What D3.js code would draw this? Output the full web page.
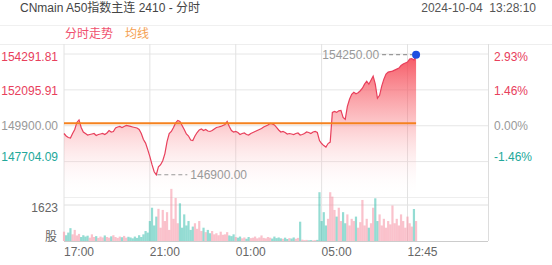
<!DOCTYPE html>
<html><head><meta charset="utf-8">
<script src="https://cdn.jsdelivr.net/npm/d3@7"></script>
<style>body{margin:0;background:#fff}svg{display:block;font-family:"Liberation Sans",Arial,"Noto Sans CJK SC",sans-serif}</style>
</head><body><svg id="c" width="552" height="265"></svg>
<script>
const titleText = "CNmain A50指数主连 2410 - 分时";
const stampText = "2024-10-04  13:28:10";
const legendLabels = ["分时走势", "均线"];
const preClose = 149900;
const priceTicks = [154291.81, 152095.91, 149900.00, 147704.09];
const pctTicks = ["2.93%", "1.46%", "0.00%", "-1.46%"];
const volTick = 1623;
const volUnit = "股";
const timeTickIdx = [0, 240, 480, 720, 960];
const timeTickLabels = ["17:00", "21:00", "01:00", "05:00", "12:45"];
const stepMin = 6;
const nightStartIdx = 0;
const dayStartIdx = 750;
const sessionLength = 1185;
const avgPrice = 150060;

const nightPrices = [
149426,149272,149179,149148,149426,149672,150103,150257,149795,149518,
149426,149333,149364,149395,149426,149302,149364,149395,149426,149364,
149456,149610,149518,149549,149764,149826,149857,149795,149857,149918,
149888,149857,149826,149795,149764,149672,149426,149056,148840,148440,
148009,147516,147085,146900,147393,147516,147762,148194,148933,149426,
149549,149795,150072,150226,150165,149918,149672,149395,149272,149025,
148994,149272,149487,149641,149703,149610,149672,149580,149549,149610,
149703,149795,149826,149857,149918,149980,150165,149857,149610,149518,
149549,149487,149364,149426,149456,149364,149333,149426,149487,149549,
149610,149672,149734,149826,149888,149949,150042,150011,149949,149795,
149641,149518,149549,149487,149395,149426,149395,149364,149426,149456,
149333,149364,149426,149518,149487,149426,149518,149549,149487,148994,
148810,148686,148594,148810,148902];
const dayPrices = [
150719,150781,150719,150812,150842,150411,150288,151089,151520,151828,
151951,151859,151920,152044,152198,152444,152629,152444,152690,152937,
152444,151582,151766,152321,152752,153060,153183,153214,153245,153306,
153368,153430,153584,153676,153738,153799,153984,154015,153922,154250];
const nightVol = [
420,260,380,580,300,500,250,320,180,260,
200,240,150,300,180,220,140,200,160,250,
180,150,210,260,180,140,200,170,230,150,
190,160,120,200,140,260,180,300,450,380,
900,1500,700,1100,1450,600,1400,900,1300,500,
2350,1000,1940,800,1700,600,1200,700,900,500,
650,800,550,900,450,600,400,500,350,450,
300,350,260,420,280,300,400,250,220,300,
180,150,200,120,160,100,180,130,150,200,
120,160,250,140,120,180,150,110,200,130,
160,120,100,150,90,130,110,160,100,140,
870,60,40,50,30,40,30,40,50,2200,
900,1300,700,1000,2200];
const dayVol = [
2000,1400,1100,1500,900,1300,800,1200,700,1000,
900,1100,600,850,1850,700,1000,600,800,1500,
1925,900,1200,700,1000,600,900,750,1600,800,
1000,700,1200,900,600,1100,800,650,1443,900];

// build points
const pts = [];
nightPrices.forEach((p, i) => pts.push({t: nightStartIdx + i * stepMin, p, v: nightVol[i]}));
dayPrices.forEach((p, i) => pts.push({t: dayStartIdx + i * stepMin, p, v: dayVol[i]}));

const svg = d3.select("#c");
const L = 64, R = 488, pTop = 54, pBot = 197.5, vTop = 205, vBot = 241;
const x = d3.scaleLinear().domain([0, sessionLength]).range([L, R]);
const y = d3.scaleLinear().domain([145508.18, 154291.81]).range([pBot, pTop]);
const yv = d3.scaleLinear().domain([0, volTick]).range([vBot, vTop]);

const red = "#e8405c", green = "#22a89a", grey = "#999";

// header
svg.append("text").attr("x", 20).attr("y", 12).attr("font-size", 12).attr("fill", "#444").text(titleText);
svg.append("text").attr("x", 536).attr("y", 12).attr("text-anchor", "end").attr("font-size", 12).attr("fill", "#555")
  .attr("xml:space", "preserve").style("white-space", "pre").text(stampText);
svg.append("line").attr("x1", 0).attr("x2", 552).attr("y1", 25.5).attr("y2", 25.5).attr("stroke", "#f0f0f0");
svg.append("text").attr("x", 65).attr("y", 38).attr("font-size", 12).attr("fill", "#f0506e").text(legendLabels[0]);
svg.append("text").attr("x", 125).attr("y", 38).attr("font-size", 12).attr("fill", "#f5a050").text(legendLabels[1]);

// grid
const g = svg.append("g");
g.append("line").attr("x1", 0).attr("x2", 552).attr("y1", 44.5).attr("y2", 44.5).attr("stroke", "#eee");
priceTicks.forEach(v => g.append("line").attr("x1", L).attr("x2", R).attr("y1", y(v)).attr("y2", y(v)).attr("stroke", "#e6e6e6"));
g.append("line").attr("x1", L).attr("x2", R).attr("y1", pBot).attr("y2", pBot).attr("stroke", "#eee");
g.append("line").attr("x1", L).attr("x2", R).attr("y1", yv(volTick)).attr("y2", yv(volTick)).attr("stroke", "#e0e0e0");
timeTickIdx.forEach(t => g.append("line").attr("x1", x(t)).attr("x2", x(t)).attr("y1", 44).attr("y2", vBot).attr("stroke", "#e2e2e2"));
g.append("line").attr("x1", R + 0.5).attr("x2", R + 0.5).attr("y1", 44).attr("y2", vBot).attr("stroke", "#ddd");
g.append("line").attr("x1", L).attr("x2", R).attr("y1", vBot + 0.5).attr("y2", vBot + 0.5).attr("stroke", "#ccc");

// price labels
const pColors = [red, red, grey, green];
const pOffsets = [3, 0.5, 0.5, -4.5];
priceTicks.forEach((v, i) => {
  svg.append("text").attr("x", 58).attr("y", y(v) + pOffsets[i]).attr("dy", "0.35em").attr("text-anchor", "end")
    .attr("font-size", 12).attr("fill", pColors[i]).text(d3.format(".2f")(v));
  svg.append("text").attr("x", 494).attr("y", y(v) + pOffsets[i]).attr("dy", "0.35em")
    .attr("font-size", 12).attr("fill", pColors[i]).text(pctTicks[i]);
});
svg.append("text").attr("x", 58).attr("y", yv(volTick) + 3).attr("dy", "0.35em").attr("text-anchor", "end").attr("font-size", 12).attr("fill", "#666").text(volTick);
svg.append("text").attr("x", 57).attr("y", 237).attr("dy", "0.35em").attr("text-anchor", "end").attr("font-size", 12).attr("fill", "#666").text(volUnit);
timeTickIdx.forEach((t, i) => svg.append("text").attr("x", x(t)).attr("y", 252).attr("dy", "0.35em")
  .attr("font-size", 12).attr("fill", "#666").text(timeTickLabels[i]));

// volume bars
svg.append("g").selectAll("rect").data(pts).join("rect")
  .attr("x", d => x(d.t) - 1.1).attr("width", 2.2)
  .attr("y", d => yv(d.v)).attr("height", d => vBot - yv(d.v))
  .attr("fill", (d, i) => (i === 0 || d.p >= pts[i - 1].p) ? "#f58fa3" : "#3cbfae")
  .attr("opacity", 0.55);

// area gradient
const defs = svg.append("defs");
const gr = defs.append("linearGradient").attr("id", "ag").attr("gradientUnits", "userSpaceOnUse")
  .attr("x1", 0).attr("x2", 0).attr("y1", pTop).attr("y2", pBot);
gr.append("stop").attr("offset", 0).attr("stop-color", "#f5414f").attr("stop-opacity", 0.9);
gr.append("stop").attr("offset", 0.45).attr("stop-color", "#f86a72").attr("stop-opacity", 0.42);
gr.append("stop").attr("offset", 1).attr("stop-color", "#ffffff").attr("stop-opacity", 0);

const area = d3.area().x(d => x(d.t)).y0(pBot).y1(d => y(d.p));
const line = d3.line().x(d => x(d.t)).y(d => y(d.p));
svg.append("path").datum(pts).attr("d", area).attr("fill", "url(#ag)");
svg.append("path").datum(pts).attr("d", line).attr("fill", "none").attr("stroke", red).attr("stroke-width", 1.2);

// average line
svg.append("line").attr("x1", x(pts[0].t)).attr("x2", x(pts[pts.length - 1].t))
  .attr("y1", y(avgPrice)).attr("y2", y(avgPrice)).attr("stroke", "#f5821f").attr("stroke-width", 2);

// max / min annotations
const maxPt = pts.reduce((a, b) => b.p > a.p ? b : a);
const minPt = pts.reduce((a, b) => b.p < a.p ? b : a);
const fmt = d3.format(".2f");
svg.append("line").attr("x1", x(maxPt.t) - 34).attr("x2", x(maxPt.t) - 2).attr("y1", y(maxPt.p)).attr("y2", y(maxPt.p))
  .attr("stroke", "#999").attr("stroke-dasharray", "4,3").attr("stroke-width", 1.2);
svg.append("text").attr("x", x(maxPt.t) - 37).attr("y", y(maxPt.p)).attr("dy", "0.35em").attr("text-anchor", "end")
  .attr("font-size", 12).attr("fill", "#999").text(fmt(maxPt.p));
svg.append("line").attr("x1", x(minPt.t) + 1).attr("x2", x(minPt.t) + 31).attr("y1", y(minPt.p)).attr("y2", y(minPt.p))
  .attr("stroke", "#999").attr("stroke-dasharray", "4,3").attr("stroke-width", 1.2);
svg.append("text").attr("x", x(minPt.t) + 34).attr("y", y(minPt.p)).attr("dy", "0.35em")
  .attr("font-size", 12).attr("fill", "#999").text(fmt(minPt.p));

// last point dot
const last = pts[pts.length - 1];
svg.append("circle").attr("cx", x(last.t)).attr("cy", y(last.p)).attr("r", 4).attr("fill", "#1f4fe0");
</script></body></html>
